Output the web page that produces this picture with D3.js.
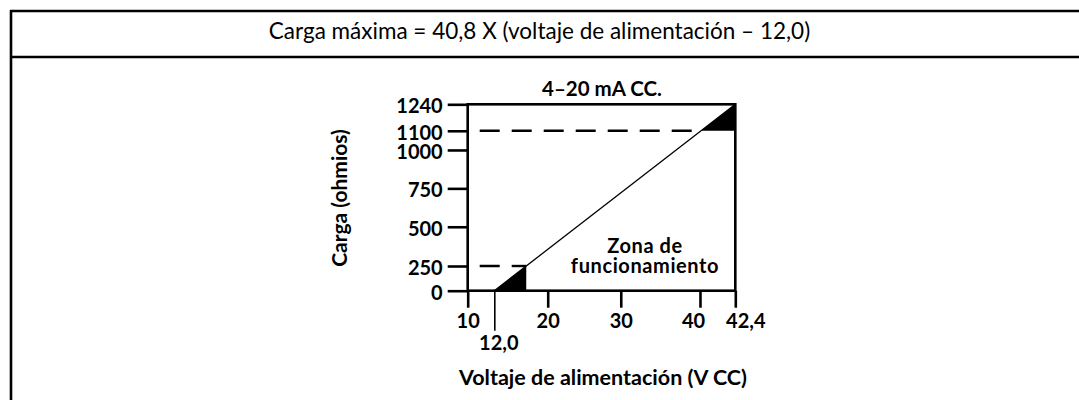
<!DOCTYPE html>
<html>
<head>
<meta charset="utf-8">
<script src="https://cdn.jsdelivr.net/npm/d3@7"></script>
<style>
  body { margin: 0; background: #fff; }
  svg { display: block; font-family: Lato, "Noto Sans", sans-serif; }
</style>
</head>
<body>
<div id="chart"></div>
<script>
// values
const formula = "Carga máxima = 40,8 X (voltaje de alimentación – 12,0)"
const signalLabel = "4–20 mA CC."
const xTicks = [10, 12.0, 20, 30, 40, 42.4]
const xTickLabels = ["10", "12,0", "20", "30", "40", "42,4"]
const yTicks = [0, 250, 500, 750, 1000, 1100, 1240]
const yTickLabels = ["0", "250", "500", "750", "1000", "1100", "1240"]
const loadLine = [[12.0, 0], [42.4, 1240]]
const dashedLoads = [250, 1100]
const zoneLabel = ["Zona de", "funcionamiento"]
const xTitle = "Voltaje de alimentación (V CC)"
const yTitle = "Carga (ohmios)"

const width = 1079
const height = 400

// the figure is schematic: ticks are not evenly spaced, so use piecewise scales
const plot = { left: 467.7, right: 735.3, top: 104.3, bottom: 290.7 }
const xStops = [0, 0.0994, 0.299, 0.572, 0.868, 1]
const yStops = [0, 0.1325, 0.343, 0.549, 0.755, 0.858, 1]

const x = d3.scaleLinear()
    .domain(xTicks)
    .range(xStops.map(f => plot.left + f * (plot.right - plot.left)))

const y = d3.scaleLinear()
    .domain(yTicks)
    .range(yStops.map(f => plot.bottom - f * (plot.bottom - plot.top)))

const svg = d3.select("#chart")
    .append("svg")
    .attr("width", width)
    .attr("height", height)

// outer box + header
const box = svg.append("g")
    .attr("stroke", "#000")
    .attr("stroke-width", 2.6)
box.append("line").attr("x1", 10).attr("x2", width).attr("y1", 11).attr("y2", 11)
box.append("line").attr("x1", 10).attr("x2", width).attr("y1", 57).attr("y2", 57)
box.append("line").attr("x1", 11).attr("x2", 11).attr("y1", 10).attr("y2", height)

svg.append("text")
    .attr("x", width / 2)
    .attr("y", 39)
    .attr("text-anchor", "middle")
    .attr("font-size", 22.5)
    .text(formula)

// load line in pixel space, and the points where it crosses a given load
const p0 = [x(loadLine[0][0]), y(loadLine[0][1])]
const p1 = [x(loadLine[1][0]), y(loadLine[1][1])]
const crossAt = load => {
  const py = y(load)
  const t = (py - p0[1]) / (p1[1] - p0[1])
  return [p0[0] + t * (p1[0] - p0[0]), py]
}

const lo = crossAt(dashedLoads[0])
const hi = crossAt(dashedLoads[1])

svg.append("path")
    .attr("d", `M${p0[0]},${p0[1]}L${lo[0]},${p0[1]}L${lo[0]},${lo[1]}Z`)
    .attr("fill", "#000")

svg.append("path")
    .attr("d", `M${hi[0]},${hi[1]}L${p1[0]},${p1[1]}L${p1[0]},${hi[1]}Z`)
    .attr("fill", "#000")

svg.append("line")
    .attr("x1", p0[0]).attr("y1", p0[1])
    .attr("x2", p1[0]).attr("y2", p1[1])
    .attr("stroke", "#000")
    .attr("stroke-width", 1.3)

// dashed guides
svg.selectAll("line.guide")
    .data(dashedLoads)
    .join("line")
    .attr("class", "guide")
    .attr("x1", plot.left)
    .attr("x2", d => crossAt(d)[0])
    .attr("y1", d => y(d))
    .attr("y2", d => y(d))
    .attr("stroke", "#000")
    .attr("stroke-width", 2.4)
    .attr("stroke-dasharray", "20,12")
    .attr("stroke-dashoffset", -12)

// frame
svg.append("rect")
    .attr("x", x(10))
    .attr("y", y(1240))
    .attr("width", x(42.4) - x(10))
    .attr("height", y(0) - y(1240))
    .attr("fill", "none")
    .attr("stroke", "#000")
    .attr("stroke-width", 2.6)

const yAxis = svg.append("g")
    .attr("transform", `translate(${plot.left},0)`)
    .call(d3.axisLeft(y)
        .tickValues(yTicks)
        .tickSize(20)
        .tickSizeOuter(0)
        .tickPadding(5)
        .tickFormat((d, i) => yTickLabels[i]))

yAxis.select(".domain").remove()
yAxis.selectAll("line").attr("stroke-width", 2.6)
yAxis.selectAll("text")
    .attr("font-family", "Lato, 'Noto Sans', sans-serif")
    .attr("font-size", 20)
    .attr("font-weight", 700)
    .attr("fill", "#000")
    .attr("dy", "0.42em")

const xLabelShift = { 12: [4, 22], 40: [-7, 0], 42.4: [10, 0] }

const xAxis = svg.append("g")
    .attr("transform", `translate(0,${plot.bottom})`)
    .call(d3.axisBottom(x)
        .tickValues(xTicks)
        .tickSize(17)
        .tickSizeOuter(0)
        .tickPadding(6)
        .tickFormat((d, i) => xTickLabels[i]))

xAxis.select(".domain").remove()
xAxis.selectAll("line")
    .attr("stroke-width", 2.6)
    .attr("y2", d => d === 12 ? 40 : 17)
xAxis.selectAll("line").filter(d => d === 12).attr("stroke-width", 1.6)
xAxis.selectAll("text")
    .attr("font-family", "Lato, 'Noto Sans', sans-serif")
    .attr("font-size", 20)
    .attr("font-weight", 700)
    .attr("fill", "#000")
    .attr("dy", "0.71em")
    .attr("dx", d => (xLabelShift[d] || [0, 0])[0])
    .attr("transform", d => `translate(0,${(xLabelShift[d] || [0, 0])[1]})`)

// labels
svg.append("text")
    .attr("x", 602)
    .attr("y", 96)
    .attr("text-anchor", "middle")
    .attr("font-size", 20.5)
    .attr("font-weight", 700)
    .text(signalLabel)

svg.append("text")
    .attr("x", 645)
    .attr("y", 253)
    .attr("text-anchor", "middle")
    .attr("font-size", 20)
    .attr("font-weight", 700)
    .attr("letter-spacing", 0.6)
    .selectAll("tspan")
    .data(zoneLabel)
    .join("tspan")
    .attr("x", 645)
    .attr("dy", (d, i) => i ? 20 : 0)
    .text(d => d)

svg.append("text")
    .attr("x", 603)
    .attr("y", 385)
    .attr("text-anchor", "middle")
    .attr("font-size", 21.5)
    .attr("font-weight", 700)
    .text(xTitle)

svg.append("text")
    .attr("transform", `translate(347,198) rotate(-90)`)
    .attr("text-anchor", "middle")
    .attr("font-size", 21)
    .attr("font-weight", 700)
    .text(yTitle)
</script>
</body>
</html>
